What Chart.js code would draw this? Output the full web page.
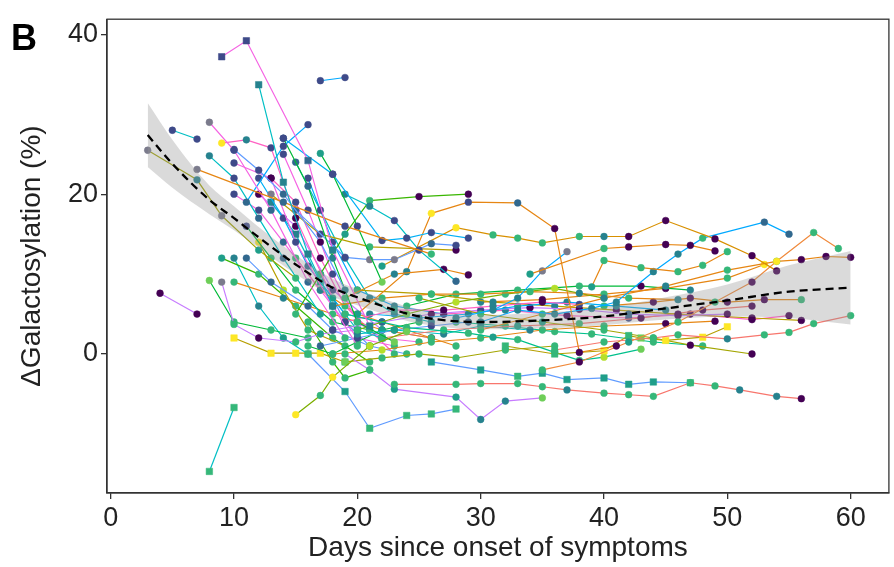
<!DOCTYPE html>
<html>
<head>
<meta charset="utf-8">
<script src="https://cdn.jsdelivr.net/npm/chart.js@4.4.1/dist/chart.umd.min.js"></script>
<style>
  html, body { margin: 0; padding: 0; background: #fff; }
  #chart { display: block; }
</style>
</head>
<body>
<canvas id="chart" width="894" height="567"></canvas>
<script>
// days since onset, one array per patient
const PATIENT_DAYS = [
  [9, 11, 16, 18, 21],
  [12, 14, 16, 18],
  [17, 19],
  [5, 7],
  [3, 7, 9, 12, 15],
  [7, 14, 19, 26],
  [4, 7],
  [8, 10],
  [15, 17, 18, 21, 24],
  [8, 10, 13, 16, 19],
  [9, 11, 13, 15, 18],
  [11, 14, 16],
  [17, 18, 20, 22],
  [8, 10, 12, 14, 17],
  [10, 12, 14, 17, 19],
  [10, 13, 15, 18, 20],
  [14, 16, 18, 20, 23],
  [14, 18, 22, 24, 26, 29],
  [19, 21, 23, 25, 28],
  [15, 19, 21, 23, 26, 28],
  [13, 17, 21, 28],
  [15, 17, 19, 21, 25, 29],
  [19, 23, 27, 29],
  [20, 24, 26, 29, 33, 36, 38, 41],
  [22, 28, 31, 33, 35, 38, 40, 42, 45, 49, 52, 54],
  [34, 40, 42, 45, 47, 49],
  [39, 40, 43, 46, 48, 50],
  [30, 33, 36, 39, 41, 44, 46, 48, 53, 55],
  [28, 31, 33, 35, 37],
  [35, 38, 42, 46, 49, 52, 54, 57, 59],
  [30, 35, 40, 45, 50, 54, 56, 58, 60],
  [36, 40, 44, 46, 50, 53, 55, 57, 60],
  [32, 36, 40, 42, 43, 45, 48, 50],
  [25, 30, 35, 40, 44, 47, 52],
  [26, 30, 33, 35, 37, 40, 42, 44, 47],
  [23, 28, 30, 33, 35, 37, 40, 42, 44, 47, 49, 51, 54, 56],
  [19, 21, 23, 28, 30, 32, 35],
  [16, 19, 21, 24, 26, 28],
  [19, 24, 29, 31, 33, 36, 38, 40, 43],
  [18, 22, 26, 30, 34, 38, 42, 46],
  [20, 24, 28, 32, 36, 40],
  [19, 23, 27, 31, 35, 38],
  [21, 25, 29, 33, 37, 41, 45],
  [18, 22, 26, 30, 34, 38, 42, 46, 50],
  [20, 26, 31, 36, 41, 46, 52, 56],
  [22, 27, 33, 38, 43, 48, 52],
  [20, 23, 27, 30, 34],
  [24, 28, 33, 38, 43, 47],
  [30, 35, 40, 45, 50, 53],
  [27, 32, 37, 42, 47, 52, 55],
  [17, 20, 23, 26, 29],
  [18, 22, 26, 30, 35, 40, 45, 49],
  [16, 18, 20, 22, 25],
  [19, 22, 25, 28, 32, 36],
  [28, 32, 36, 39, 44, 48],
  [40, 44, 47, 50, 53, 56],
  [10, 12, 14, 17, 20, 23],
  [11, 13, 15, 18, 21],
  [12, 14, 16, 19, 22],
  [13, 15, 17, 20, 22],
  [11, 13, 16, 18, 21],
  [9, 10, 12, 15, 17, 20],
  [8, 10, 13, 16],
  [10, 14, 18, 22, 26],
  [14, 16, 18, 20, 22, 25],
  [12, 14, 16, 19],
  [10, 13, 15, 17, 19],
  [9, 12, 15, 18, 21],
  [15, 17, 19, 21, 23, 26],
  [16, 18, 20, 23, 27],
  [13, 15, 17, 19, 21, 23],
  [16, 18, 19, 21],
  [17, 19, 21, 24],
  [15, 17, 20, 24, 28],
  [12, 15, 18, 22, 26],
  [10, 12, 14, 16]
];

// change in galactosylation (%), same order
const PATIENT_GAL = [
  [37.2, 39.2, 24.2, 13, 3.5],
  [33.7, 21.5, 12.5, 6],
  [34.2, 34.6],
  [28.0, 26.9],
  [25.5, 21.8, 17.3, 13, 9.5],
  [23.1, 19, 16, 12.5],
  [7.6, 5.0],
  [-14.7, -6.7],
  [-7.6, -5.2, -2.9, 1, 2.8],
  [29, 25.5, 18, 9, 2],
  [26.4, 26.8, 25.8, 17, 7],
  [19, 26, 28.7],
  [25.1, 22.5, 16, 9],
  [24.8, 22, 17, 12, 5],
  [25.6, 23, 20, 14, 8],
  [23.9, 22, 14, 6, 1],
  [27, 21, 12, 4, 1.5],
  [27, 22.5, 14.2, 14.5, 15.2, 14.5],
  [20, 18.5, 16.7, 13, 9.1],
  [18, 12.1, 11.8, 11.8, 13.8, 13.6],
  [20, 15, 13.4, 13.0],
  [5, 10, 15, 19.2, 19.7, 20.0],
  [7, 10, 10.6, 9.9],
  [5, 10.3, 17.6, 19.0, 18.9, 15.7, 0.2, 1],
  [11, 15.8, 14.9, 14.5, 13.9, 14.7, 14.7, 14.7, 16.7, 14.4, 12.3, 10.4],
  [10, 13.2, 13.4, 13.7, 13.6, 12.9],
  [8.4, 11.7, 10.8, 10.3, 11.1, 12.8],
  [4, 5.5, 5, 5.7, 6.5, 10.3, 12.5, 14.5, 16.5, 15.0],
  [4.5, 5.5, 7, 10.4, 12.8],
  [-2, -1, 1.5, 4, 6.5, 9.0, 11.6, 15.2, 13.2],
  [3, 5, 7, 8.5, 10.5, 11.6, 11.8, 12.2, 12.1],
  [0.5, 1.5, 2.0, 2.4, 1.9, 2.4, 2.7, 3.8, 4.8],
  [1, 0, 0.4, 2.3, 2.0, 1.7, 2.1, 3.4],
  [7, 5, 4, 3, 2, 1.1, 0.0],
  [-1, -2, -2.8, -2.4, -3.2, -3.0, -3.8, -3.5, -3.6],
  [-3.8, -3.8, -3.7, -3.7, -4.1, -4.5, -4.9, -5.1, -5.3, -3.6, -4.0, -4.5, -5.3, -5.6],
  [0, -2, -4.4, -5.4, -8.2, -5.9, -5.5],
  [0, -4.7, -9.3, -7.7, -7.5, -6.9],
  [5, 3.3, 2.6, 2.1, 1.8, 0.2, -0.8, -0.4, 0.6],
  [6, 7, 7.5, 7.5, 7.8, 7.6, 7.0, 6.8],
  [3, 5, 6.5, 7.5, 8.2, 7],
  [4, 5.5, 5.5, 6, 6.5, 6.2],
  [5, 4.5, 5, 6, 6.5, 6, 5.5],
  [3, 4, 5, 5.5, 5.8, 5.6, 5, 4.8, 5],
  [8, 7.5, 6.5, 6, 5.5, 5, 4.5, 4.2],
  [2, 3, 3.5, 3.8, 4.5, 5.5, 6],
  [2.5, 3, 2.5, 3.5, 3],
  [6, 7.5, 8, 8.5, 8.5, 8],
  [6.5, 6.8, 7.5, 8.2, 9.5, 11.2],
  [5, 5.5, 4.8, 4.5, 5, 4.3, 4.8],
  [1, 2, 3, 3.5, 4],
  [0, 0.5, 1.5, 2, 3, 3.5, 3.8, 4.1],
  [1, 0, 1.5, 3, 4],
  [-1, -0.5, 0, -0.5, 0.5, 1],
  [4, 3.5, 2.8, 2.5, 1.5, 1],
  [6, 6.5, 7, 6.5, 6.8, 6.8],
  [20, 18, 14, 8, 2, 1],
  [16, 12, 8, 4, 3],
  [22, 17, 11, 5, 4],
  [19, 15, 9, 3, 2],
  [12, 9, 6, 3, 1],
  [9.0, 3.7, 2, 1.5, 2.5, 3],
  [9.2, 4, 3, 2],
  [9, 7, 5, 3, 2],
  [25, 18, 10, 4, 2, 1.5],
  [14, 8, 3, 1],
  [2, 0.1, 0.1, 0.1, -1],
  [12, 10, 6, 2, -1],
  [24, 18, 12, 7, 5, 4],
  [22, 14, 8, 6, 5],
  [22, 19, 12, 6, 3, 0],
  [4, -1, -3, -2],
  [10, 4, 1, 0],
  [12, 8, 5, 3, 1],
  [20, 16, 8, 3, 2],
  [12, 6, 2, 0]
];

const LINE_COLORS = [
  '#f564e3', '#00bfc4', '#00a9ff', '#00bfc4', '#a3a500', '#e68613', '#c77cff', '#00bfc4',
  '#7cae00', '#f564e3', '#ff61c3', '#00a9ff', '#00ba38', '#00bfc4', '#619cff', '#f564e3',
  '#00ba38', '#00b0f6', '#00bfc4', '#619cff', '#b79f00', '#39b600', '#e68613', '#e68613',
  '#d89000', '#e68613', '#e68613', '#00a9ff', '#00a9ff', '#f08a3c', '#e68613', '#f8766d',
  '#b79f00', '#a3a500', '#619cff', '#f8766d', '#c77cff', '#619cff', '#00c08b', '#e68613',
  '#7cae00', '#ff61c3', '#00b0f6', '#c77cff', '#b79f00', '#f8766d', '#00bfc4', '#00ba38',
  '#e68613', '#ff61c3', '#619cff', '#e68613', '#00ba38', '#a3a500', '#00c08b', '#e68613',
  '#f564e3', '#00ba38', '#00b0f6', '#00bfc4', '#619cff', '#c77cff', '#00ba38', '#e68613',
  '#f564e3', '#b79f00', '#b79f00', '#39b600', '#00bfc4', '#00a9ff', '#ff61c3', '#39b600',
  '#619cff', '#e68613', '#c77cff', '#00bfc4'
];

// patients plotted with square markers
const SQUARE_IDS = [0, 1, 7, 32, 34, 37, 59, 66];

// viridis shade per point (index into SHADE_COLORS)
const POINT_SHADES = [
  '11233', '3333', '11', '11', '93945', '9215', '00', '55',
  '85876', '91225', '83104', '211', '4116', '31224', '11203', '10135',
  '12356', '211111', '33112', '219921', '9150', '554500', '5300', '43812000',
  '485555300000', '450000', '455555', '3333333522', '33399', '504550855', '553355000', '555535555',
  '55856888', '5545500', '445444445', '55555355555330', '5544336', '545555', '555455576', '35555353',
  '567575', '140301', '3334333', '120100200', '55330000', '5545000', '34343', '555503',
  '305058', '0301000', '21212', '57555500', '55545', '655555', '555555', '500005',
  '112355', '15555', '11233', '33434', '22234', '950545', '6555', '53555',
  '111355', '8755', '88885', '45555', '213333', '11133', '010545', '5555',
  '2355', '53555', '00100', '3344'
];
const SHADE_COLORS = ['#440154', '#3e4a89', '#31688e', '#26828e', '#1f9e89',
  '#35b779', '#6ece58', '#b5de2b', '#fde725', '#7b7b8c'];

// loess fit with 95% band
const SMOOTH_X = [3, 5, 8, 10, 12, 15, 18, 20, 25, 30, 35, 40, 45, 50, 55, 60];
const SMOOTH_Y = [27.4, 23.8, 19.3, 17.0, 14.6, 11.2, 8.3, 7.1, 4.7, 4.0, 4.2, 4.7, 5.7, 6.7, 7.8, 8.3];
const SMOOTH_LO = [23.4, 20.8, 17.5, 15.5, 13.3, 10.0, 7.2, 6.1, 3.8, 3.1, 3.2, 3.6, 4.3, 4.7, 4.5, 3.7];
const SMOOTH_HI = [31.4, 26.8, 21.1, 18.5, 15.9, 12.4, 9.4, 8.1, 5.6, 4.9, 5.2, 5.8, 7.1, 8.7, 11.1, 12.9];

const X_TICKS = [0, 10, 20, 30, 40, 50, 60];
const Y_TICKS = [0, 20, 40];

const FONT = '"Liberation Sans", Arial, sans-serif';
Chart.defaults.font.family = FONT;

const patientSets = PATIENT_DAYS.map((days, i) => {
  const shades = POINT_SHADES[i];
  const cols = days.map((d, j) => SHADE_COLORS[Number(shades[j] ?? shades[shades.length - 1])]);
  const square = SQUARE_IDS.includes(i);
  return {
    data: days.map((d, j) => ({ x: d, y: PATIENT_GAL[i][j] })),
    borderColor: LINE_COLORS[i],
    borderWidth: 1.2,
    pointStyle: square ? 'rect' : 'circle',
    pointRadius: square ? 4.6 : 3.4,
    pointBackgroundColor: cols,
    pointBorderColor: cols,
    pointBorderWidth: 0.5,
    fill: false,
    tension: 0,
    order: 10
  };
});

const smoothPts = (arr) => SMOOTH_X.map((x, i) => ({ x, y: arr[i] }));

const datasets = [
  {
    data: smoothPts(SMOOTH_Y),
    borderColor: '#000',
    borderWidth: 2.3,
    borderDash: [8, 5],
    pointRadius: 0,
    fill: false,
    cubicInterpolationMode: 'monotone',
    order: 0
  },
  {
    data: smoothPts(SMOOTH_HI),
    borderColor: 'rgba(0,0,0,0)',
    borderWidth: 0,
    pointRadius: 0,
    fill: '+1',
    backgroundColor: 'rgba(150,150,150,0.35)',
    cubicInterpolationMode: 'monotone',
    order: 2
  },
  {
    data: smoothPts(SMOOTH_LO),
    borderColor: 'rgba(0,0,0,0)',
    borderWidth: 0,
    pointRadius: 0,
    fill: false,
    cubicInterpolationMode: 'monotone',
    order: 2
  }
].concat(patientSets);

const frame = {
  id: 'frame',
  afterDraw(chart) {
    const { ctx, chartArea: a } = chart;
    ctx.save();
    ctx.strokeStyle = '#333';
    ctx.lineWidth = 1.3;
    ctx.strokeRect(a.left, a.top, a.right - a.left, a.bottom - a.top);

    ctx.fillStyle = '#222';
    ctx.font = '28px ' + FONT;
    ctx.textAlign = 'center';
    ctx.textBaseline = 'middle';
    ctx.fillText('Days since onset of symptoms', (a.left + a.right) / 2, 548);

    ctx.translate(32, (a.top + a.bottom) / 2);
    ctx.rotate(-Math.PI / 2);
    ctx.fillText('ΔGalactosylation (%)', 0, 0);
    ctx.restore();

    ctx.save();
    ctx.fillStyle = '#000';
    ctx.font = 'bold 36px ' + FONT;
    ctx.textBaseline = 'alphabetic';
    ctx.fillText('B', 11, 50);
    ctx.restore();
  }
};

const axisGrid = { drawOnChartArea: false, tickLength: 6, color: '#333', lineWidth: 1.3 };

new Chart(document.getElementById('chart'), {
  type: 'line',
  data: { datasets },
  options: {
    responsive: false,
    animation: false,
    layout: { padding: { top: 15, right: 4, left: 0, bottom: 0 } },
    plugins: { legend: { display: false }, tooltip: { enabled: false } },
    scales: {
      x: {
        type: 'linear',
        min: -0.3,
        max: 63.1,
        afterBuildTicks: (s) => { s.ticks = X_TICKS.map((v) => ({ value: v })); },
        afterFit: (s) => { s.height = 74; },
        ticks: { font: { size: 27 }, color: '#222', padding: 3, maxRotation: 0, autoSkip: false },
        grid: axisGrid,
        border: { display: true, color: '#333', width: 1.3 }
      },
      y: {
        type: 'linear',
        min: -17.4,
        max: 41.9,
        afterBuildTicks: (s) => { s.ticks = Y_TICKS.map((v) => ({ value: v })); },
        afterFit: (s) => { s.width = 107; },
        ticks: { font: { size: 27 }, color: '#222', padding: 3, autoSkip: false },
        grid: axisGrid,
        border: { display: true, color: '#333', width: 1.3 }
      }
    }
  },
  plugins: [frame]
});
</script>
</body>
</html>
